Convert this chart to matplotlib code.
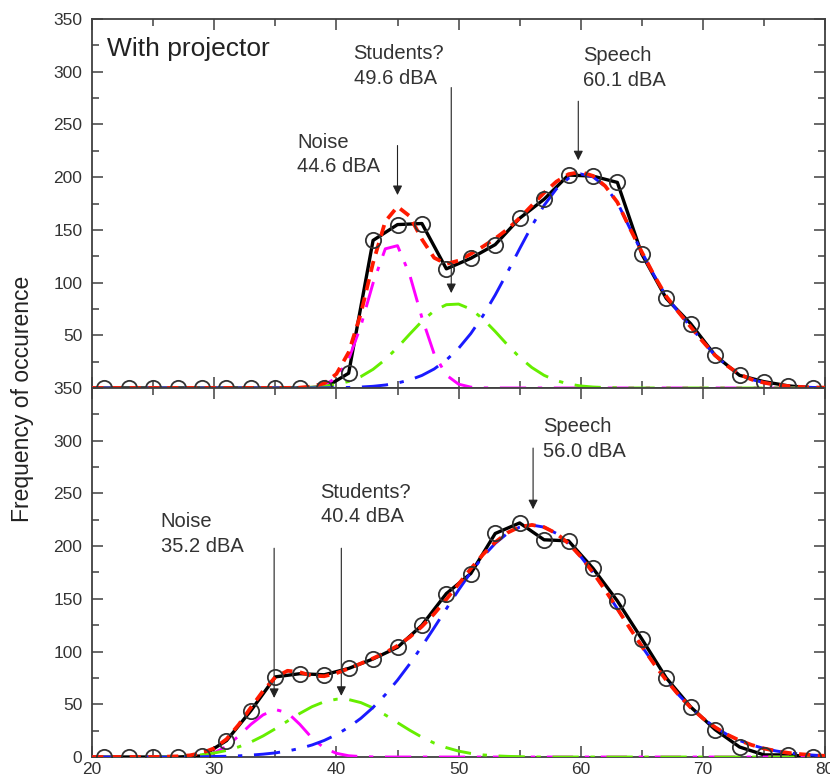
import matplotlib
matplotlib.use("Agg")
import matplotlib.pyplot as plt
from matplotlib.ticker import MultipleLocator

plt.rcParams['font.family'] = ['Liberation Sans', 'DejaVu Sans']

# --- measured histogram (circles), x = 21, 23, ..., 79 dBA ---
level = list(range(21, 80, 2))
top_counts = [0, 0, 0, 0, 0, 0, 0, 0, 0, 0,
              14, 140, 155, 156, 113, 123, 136, 161, 179, 202,
              201, 195, 127, 85, 61, 31, 12, 6, 2, 0]
bottom_counts = [0, 0, 0, 0, 1,
                 15.5, 44, 76, 79, 78, 84, 93, 104, 125, 155,
                 174, 212, 222, 206, 205, 179, 148, 112, 75, 47.5,
                 26, 9.5, 2, 2, 0]

# --- fitted components on a 1 dB grid (20..80) ---
fit_level = list(range(20, 81))
top_noise = [0, 0, 0, 0, 0, 0, 0, 0, 0, 0,
             0, 0, 0, 0, 0, 0, 0, 0, 0.6, 2.7,
             9.7, 27.1, 58.9, 99.5, 132, 135, 107.3, 66.7, 32.3, 12.2,
             3.6, 0.8, 0.1, 0, 0, 0, 0, 0, 0, 0,
             0, 0, 0, 0, 0, 0, 0, 0, 0, 0,
             0, 0, 0, 0, 0, 0, 0, 0, 0, 0,
             0]
top_students = [0, 0, 0, 0, 0, 0, 0, 0, 0, 0,
                0, 0, 0, 0, 0, 0, 0.1, 0.3, 0.8, 1.6,
                3.3, 6.2, 10.8, 17.7, 27.0, 38.4, 51.1, 63.3, 73.2, 79.0,
                79.6, 74.8, 65.5, 53.6, 40.9, 29.1, 19.4, 12.0, 7.0, 3.8,
                1.9, 0.9, 0.4, 0.2, 0, 0, 0, 0, 0, 0,
                0, 0, 0, 0, 0, 0, 0, 0, 0, 0,
                0]
top_speech = [0, 0, 0, 0, 0, 0, 0, 0, 0, 0,
              0, 0, 0, 0, 0, 0, 0, 0, 0.1, 0.1,
              0.3, 0.5, 0.9, 1.6, 2.8, 4.7, 7.6, 11.9, 18.0, 26.5,
              37.6, 51.6, 68.6, 88.2, 109.7, 132.1, 153.8, 173.2, 188.7, 199.0,
              203.0, 200.3, 191.2, 176.0, 152.0, 129.0, 107.0, 87.0, 72.0, 58.0,
              44.0, 31.0, 21.0, 13.0, 8.0, 5.0, 3.0, 1.8, 1.0, 0.5,
              0.3]
top_total = [0, 0, 0, 0, 0, 0, 0, 0, 0, 0,
             0, 0, 0, 0, 0, 0, 0.1, 0.3, 1.4, 4.4,
             13.3, 33.8, 70.6, 118.8, 158, 172, 163, 141, 123.5, 117.7,
             120.8, 127.2, 134.2, 141.8, 150.6, 161.2, 173.2, 185.2, 195.7, 202.8,
             204.9, 201.2, 191.6, 176.2, 152, 129, 107, 87, 72, 58,
             44, 31, 21, 13, 8, 5, 3, 1.8, 1, 0.5,
             0.3]

bottom_noise = [0, 0, 0, 0, 0, 0, 0, 0, 0.3, 1.5,
                4, 10, 20, 31, 40, 45, 42, 31, 18, 8.5,
                3.5, 1.2, 0.4, 0.1, 0, 0, 0, 0, 0, 0,
                0, 0, 0, 0, 0, 0, 0, 0, 0, 0,
                0, 0, 0, 0, 0, 0, 0, 0, 0, 0,
                0, 0, 0, 0, 0, 0, 0, 0, 0, 0,
                0]
bottom_students = [0, 0, 0, 0, 0, 0, 0.3, 0.65, 1.2, 2.2,
                   3.8, 6.2, 9.6, 14.2, 20.0, 26.8, 34.1, 41.3, 47.7, 52.4,
                   54.8, 54.5, 51.6, 46.5, 39.9, 32.6, 25.4, 18.8, 13.2, 8.9,
                   5.6, 3.4, 2.0, 1.1, 0.6, 0.3, 0.1, 0, 0, 0,
                   0, 0, 0, 0, 0, 0, 0, 0, 0, 0,
                   0, 0, 0, 0, 0, 0, 0, 0, 0, 0,
                   0]
bottom_speech = [0, 0, 0, 0, 0, 0, 0, 0, 0.1, 0.2,
                 0.5, 0.7, 1.1, 1.8, 2.7, 3.9, 5.7, 8.1, 11.4, 15.7,
                 21.2, 28.2, 36.7, 47.0, 59.1, 72.9, 88.3, 105.0, 122.6, 140.6,
                 158.4, 175.1, 190.1, 202.6, 212.1, 218.0, 220.0, 218.0, 212.1, 202.6,
                 190.1, 175.1, 158.4, 140.6, 122.6, 105.0, 88.3, 72.9, 59.1, 47.0,
                 36.7, 28.2, 21.2, 15.7, 11.4, 8.1, 5.7, 3.9, 2.7, 1.8,
                 1.1]
bottom_total = [0, 0, 0, 0, 0, 0, 0.3, 0.65, 1.6, 3.9,
                8.3, 16.9, 30.7, 47.0, 62.7, 75.7, 81.8, 80.4, 77.1, 76.6,
                79.5, 83.9, 88.7, 93.6, 99.0, 105.5, 113.7, 123.8, 135.8, 149.5,
                164.0, 178.5, 192.1, 203.7, 212.7, 218.3, 220.1, 218.0, 212.1, 202.6,
                190.1, 175.1, 158.4, 140.6, 122.6, 105.0, 88.3, 72.9, 59.1, 47.0,
                36.7, 28.2, 21.2, 15.7, 11.4, 8.1, 5.7, 3.9, 2.7, 1.8,
                1.1]

# annotations: (label, text x, text y, arrow x, arrow top, arrow tip)
top_notes = [("Noise\n44.6 dBA", 36.8, 242, 45.0, 230, 183),
             ("Students?\n49.6 dBA", 41.4, 326, 49.4, 285, 90),
             ("Speech\n60.1 dBA", 60.2, 324, 59.8, 272, 216)]
bottom_notes = [("Noise\n35.2 dBA", 25.6, 232, 34.9, 198, 56),
                ("Students?\n40.4 dBA", 38.7, 260, 40.4, 198, 58),
                ("Speech\n56.0 dBA", 56.9, 322, 56.1, 293, 235)]

DASHDOT = (0, (9, 4, 1.5, 4))
AXCOL = '#404040'


def draw_panel(ax, counts, noise, students, speech, total, notes, show_zero):
    ax.plot(level, counts, '-', color='black', lw=2.4, zorder=3)
    ax.plot(level, counts, 'o', ms=11, mfc='none', mec='#333333', mew=1.3, zorder=6)
    ax.plot(fit_level, noise, color='#ff00ff', lw=2.1, ls=DASHDOT, zorder=4)
    ax.plot(fit_level, students, color='#66ee00', lw=2.1, ls=DASHDOT, zorder=4)
    ax.plot(fit_level, speech, color='#1a1aff', lw=2.1, ls=DASHDOT, zorder=4)
    ax.plot(fit_level, total, color='#ff1a00', lw=2.7, ls=(0, (3, 2)), zorder=5)

    for label, tx, ty, axx, ytop, ytip in notes:
        ax.text(tx, ty, label, fontsize=14.5, color='#333333', va='top', ha='left',
                linespacing=1.35)
        ax.annotate('', xy=(axx, ytip), xytext=(axx, ytop),
                    arrowprops=dict(arrowstyle='-|>', color='#222222', lw=0.8,
                                    mutation_scale=14, shrinkA=0, shrinkB=0))

    ax.set_xlim(20, 80)
    ax.set_ylim(0, 350)
    ax.xaxis.set_major_locator(MultipleLocator(10))
    ax.xaxis.set_minor_locator(MultipleLocator(5))
    ax.yaxis.set_major_locator(MultipleLocator(50))
    ax.yaxis.set_minor_locator(MultipleLocator(25))
    ax.tick_params(which='both', direction='in', top=True, right=True,
                   colors=AXCOL, labelcolor='#333333', labelsize=12.5, width=1.1)
    ax.tick_params(which='major', length=8)
    ax.tick_params(which='minor', length=5)
    ax.tick_params(axis='y', pad=7)
    for sp in ax.spines.values():
        sp.set_color(AXCOL)
        sp.set_linewidth(1.3)
    if not show_zero:
        ax.set_yticks(range(0, 351, 50))
        ax.set_yticklabels([''] + [str(v) for v in range(50, 351, 50)])


fig = plt.figure(figsize=(8.3, 7.83), dpi=100)
ax_top = fig.add_axes([0.111, 0.5045, 0.883, 0.4712])
ax_bot = fig.add_axes([0.111, 0.0332, 0.883, 0.4713])

draw_panel(ax_top, top_counts, top_noise, top_students, top_speech, top_total,
           top_notes, show_zero=False)
draw_panel(ax_bot, bottom_counts, bottom_noise, bottom_students, bottom_speech,
           bottom_total, bottom_notes, show_zero=True)
ax_top.tick_params(labelbottom=False)

ax_top.text(21.2, 322, "With projector", fontsize=19, color='#222222', va='center')
fig.text(0.027, 0.49, "Frequency of occurence", rotation=90, fontsize=16.5,
         color='#222222', va='center', ha='center')

fig.savefig("out.png", dpi=100)
